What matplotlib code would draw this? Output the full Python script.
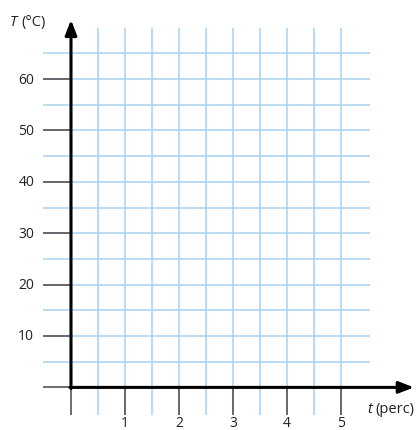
import numpy as np
import matplotlib.pyplot as plt

# tick values and labels
t_ticks = [1, 2, 3, 4, 5]
T_ticks = [10, 20, 30, 40, 50, 60]
t_grid = np.arange(0.5, 5.01, 0.5)
T_grid = np.arange(5, 65.1, 5)

blue = "#a6d2f2"
gray = "#555555"
txt = "#222222"

fig = plt.figure(figsize=(4.17, 4.31), dpi=100)
ax = fig.add_axes([0, 0, 1, 1])
ax.set_xlim(-71 / 54, (417 - 71) / 54)
ax.set_ylim(-(431 - 388.4) / 5.14, 388.4 / 5.14)
ax.axis("off")

# blue grid
ax.hlines(T_grid, -0.52, 5.54, color=blue, lw=1.1, zorder=1)
ax.vlines(t_grid, -5.3, 70, color=blue, lw=1.1, zorder=1)

# gray ticks on labelled values
ax.hlines([0] + T_ticks, -0.52, 0, color=gray, lw=1.2, zorder=2)
ax.vlines([0] + t_ticks, -5.3, 0, color=gray, lw=1.2, zorder=2)

# axes with arrows
arr = dict(arrowstyle="-|>,head_length=0.9,head_width=0.35",
           color="black", lw=2.2, shrinkA=0, shrinkB=0)
ax.annotate("", xy=(6.35, 0), xytext=(-0.02, 0), arrowprops=arr,
            annotation_clip=False, zorder=3)
ax.annotate("", xy=(0, 71.5), xytext=(0, -0.2), arrowprops=arr,
            annotation_clip=False, zorder=3)

for v in T_ticks:
    ax.text(-0.68, v, str(v), ha="right", va="center", fontsize=10,
            family="Open Sans", color=txt)
for v in t_ticks:
    ax.text(v, -7.6, str(v), ha="center", va="baseline", fontsize=10,
            family="Open Sans", color=txt)

ax.text(-1.13, 71.2, "T", ha="left", va="center", fontsize=10.5, style="italic",
        family="Open Sans", color=txt)
ax.text(-0.91, 71.2, "(°C)", ha="left", va="center", fontsize=10.5,
        family="Open Sans", color=txt)
ax.text(5.48, -4.2, "t", ha="left", va="center", fontsize=10.5, style="italic",
        family="Open Sans", color=txt)
ax.text(5.64, -4.2, "(perc)", ha="left", va="center", fontsize=10.5,
        family="Open Sans", color=txt)

fig.savefig("out.png", dpi=100)
